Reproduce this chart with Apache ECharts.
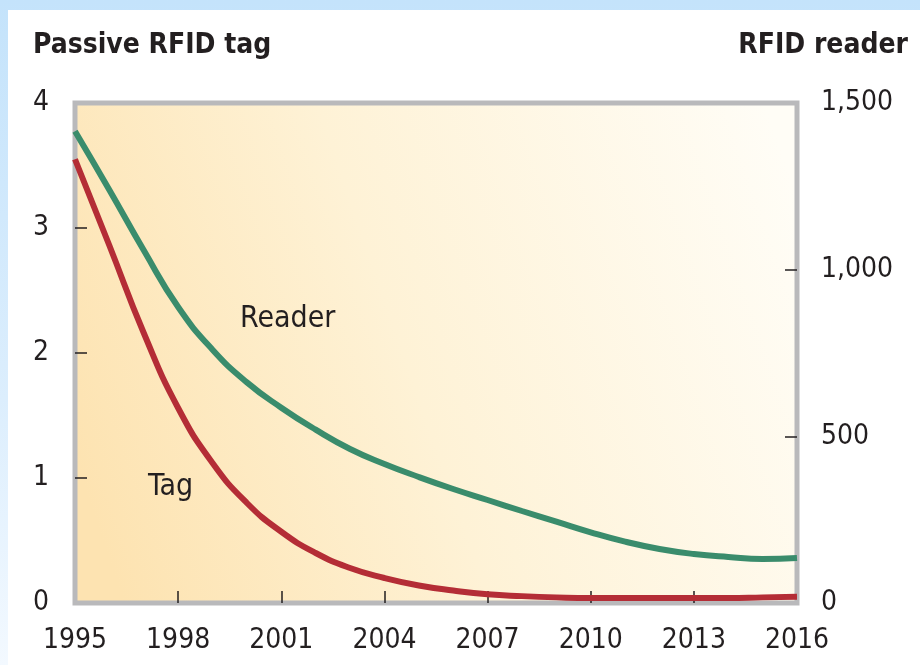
<!DOCTYPE html>
<html>
<head>
<meta charset="utf-8">
<script src="https://cdn.jsdelivr.net/npm/echarts@6/dist/echarts.min.js"></script>
<style>
  html, body { margin: 0; padding: 0; }
  body {
    width: 920px; height: 665px; overflow: hidden;
    background: linear-gradient(to bottom, #c4e3fb 0%, #dceefd 60%, #f3f9ff 100%);
    position: relative;
  }
  #chart {
    position: absolute; left: 8px; top: 10px;
    width: 912px; height: 655px;
    background: #ffffff;
  }
</style>
</head>
<body>
<div id="chart"></div>
<script>
// years on the x axis
const years = [1995, 1996, 1997, 1998, 1999, 2000, 2001, 2002, 2003, 2004, 2005,
               2006, 2007, 2008, 2009, 2010, 2011, 2012, 2013, 2014, 2015, 2016];
// passive tag cost (left axis)
const tagValues = [3.55, 2.86, 2.16, 1.56, 1.12, 0.80, 0.57, 0.40, 0.28, 0.20, 0.14,
                   0.10, 0.07, 0.055, 0.045, 0.04, 0.04, 0.04, 0.04, 0.04, 0.045, 0.05];
// reader cost (right axis)
const readerValues = [1415, 1239, 1058, 888, 760, 662, 586, 520, 462, 417, 378,
                      342, 309, 276, 244, 212, 184, 162, 147, 138, 132, 135];
const xTicks = [1998, 2001, 2004, 2007, 2010, 2013];
const leftTicks = [1, 2, 3];
const rightTicks = [500, 1000];

const FONT = '"Liberation Sans Narrow", "DejaVu Sans Condensed", "Arial Narrow", sans-serif';
const TXT = '#231f20';

const chart = echarts.init(document.getElementById('chart'));

const pair = (vals) => years.map((y, i) => [y, vals[i]]);
const tickStyle = { color: '#231f20', width: 1.5 };

const option = {
  animation: false,
  grid: {
    left: 67, right: 123, top: 93, bottom: 62,
    show: true,
    borderColor: '#b9b9bb',
    borderWidth: 5,
    backgroundColor: new echarts.graphic.LinearGradient(0, 0.7, 1, 0.2, [
      { offset: 0, color: '#fde3b1' },
      { offset: 0.45, color: '#fef2d6' },
      { offset: 1, color: '#fffdf6' }
    ])
  },
  xAxis: {
    type: 'value',
    min: 1995, max: 2016, interval: 3,
    axisLine: { show: false },
    splitLine: { show: false },
    axisTick: { show: true, inside: true, length: 12, customValues: xTicks, lineStyle: tickStyle },
    axisLabel: {
      margin: 24, fontSize: 28, color: TXT, fontFamily: FONT,
      formatter: (v) => String(v)
    }
  },
  yAxis: [
    {
      type: 'value',
      min: 0, max: 4, interval: 1,
      axisLine: { show: false },
      splitLine: { show: false },
      axisTick: { show: true, inside: true, length: 12, customValues: leftTicks, lineStyle: tickStyle },
      axisLabel: { margin: 26, fontSize: 28, color: TXT, fontFamily: FONT }
    },
    {
      type: 'value',
      min: 0, max: 1500, interval: 500,
      position: 'right',
      axisLine: { show: false },
      splitLine: { show: false },
      axisTick: { show: true, inside: true, length: 12, customValues: rightTicks, lineStyle: tickStyle },
      axisLabel: {
        margin: 24, fontSize: 28, color: TXT, fontFamily: FONT,
        formatter: (v) => v.toLocaleString('en-US')
      }
    }
  ],
  series: [
    {
      name: 'Reader',
      type: 'line',
      yAxisIndex: 1,
      data: pair(readerValues),
      smooth: 0.5,
      showSymbol: false,
      lineStyle: { color: '#3a8c6c', width: 6 },
      z: 3
    },
    {
      name: 'Tag',
      type: 'line',
      yAxisIndex: 0,
      data: pair(tagValues),
      smooth: 0.5,
      showSymbol: false,
      lineStyle: { color: '#b42d36', width: 6 },
      z: 4
    }
  ],
  graphic: [
    {
      type: 'text', left: 25, top: 22,
      style: { text: 'Passive RFID tag', font: 'bold 28px ' + FONT, fill: TXT }
    },
    {
      type: 'text', right: 12, top: 22,
      style: { text: 'RFID reader', font: 'bold 28px ' + FONT, fill: TXT }
    },
    {
      type: 'text', left: 232, top: 294,
      style: { text: 'Reader', font: '30px ' + FONT, fill: TXT }
    },
    {
      type: 'text', left: 140, top: 462,
      style: { text: 'Tag', font: '30px ' + FONT, fill: TXT }
    }
  ]
};

chart.setOption(option);
</script>
</body>
</html>
